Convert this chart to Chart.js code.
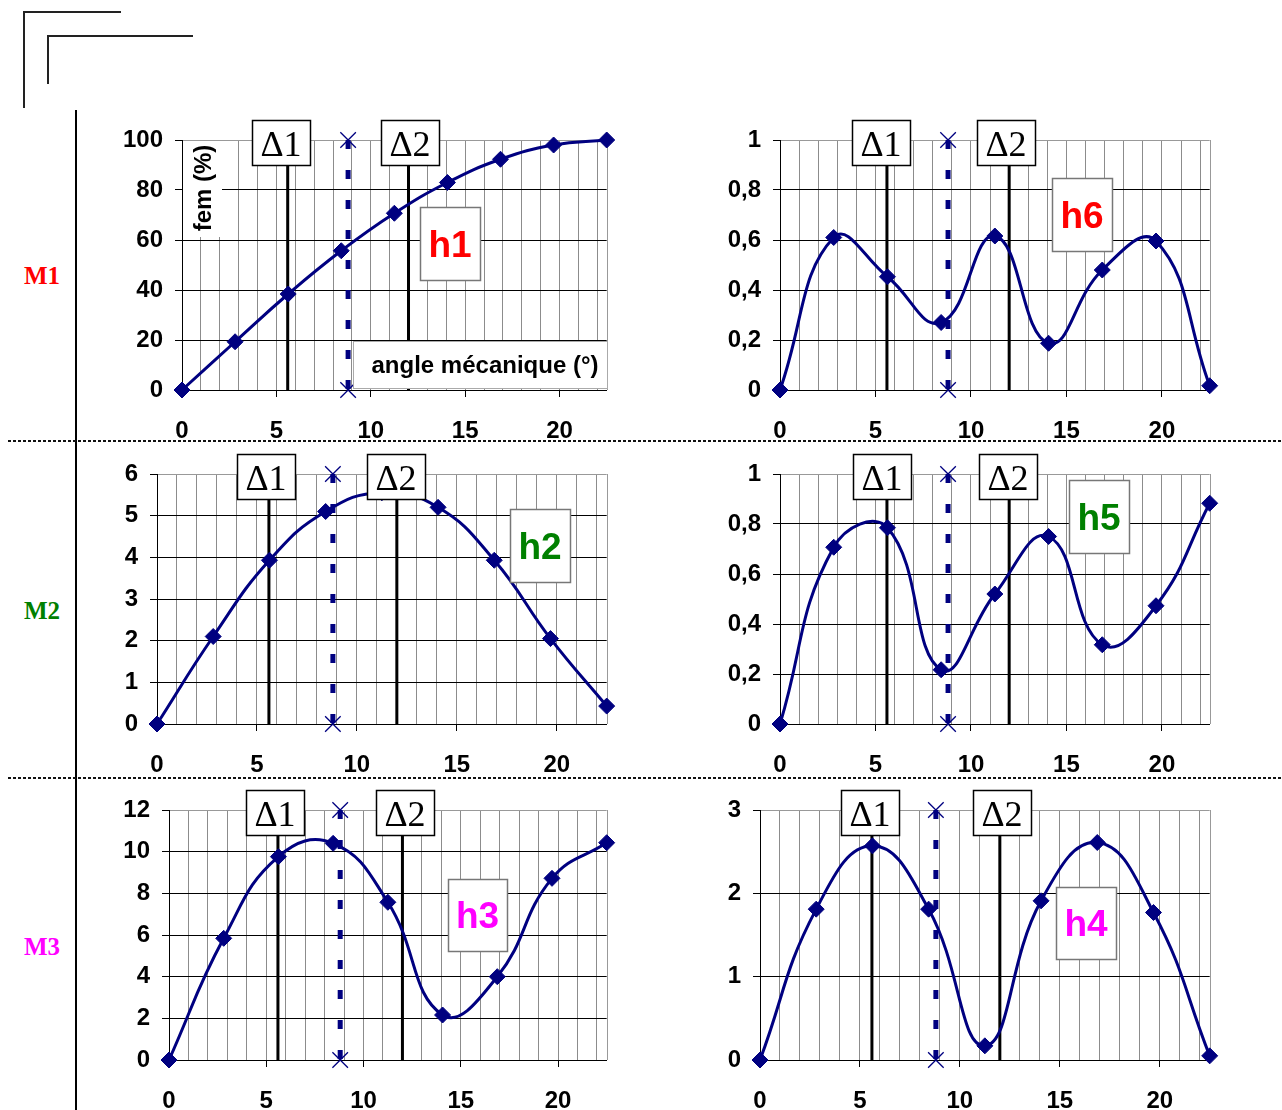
<!DOCTYPE html>
<html>
<head>
<meta charset="utf-8">
<script src="https://cdn.jsdelivr.net/npm/chart.js@4.4.0/dist/chart.umd.min.js"></script>
<style>
body { margin: 0; background: #fff; width: 1282px; height: 1110px; position: relative; overflow: hidden; }
.panel { position: absolute; }
.ln { position: absolute; background: #222; }
.sep { position: absolute; left: 8px; width: 1274px; height: 2px;
  background: repeating-linear-gradient(to right, #111 0 3px, transparent 3px 5px); }
.mlab { position: absolute; font: bold 25px 'Liberation Serif', 'Times New Roman', serif; transform: translate(-50%, -50%); }
</style>
</head>
<body>
<div class="ln" style="left:23px;top:11px;width:98px;height:2px"></div>
<div class="ln" style="left:23px;top:11px;width:2px;height:97px"></div>
<div class="ln" style="left:47px;top:35px;width:146px;height:2px"></div>
<div class="ln" style="left:47px;top:35px;width:2px;height:49px"></div>
<div class="ln" style="left:75px;top:110px;width:2px;height:1000px;background:#000"></div>
<div class="sep" style="top:440px"></div>
<div class="sep" style="top:777px"></div>
<div class="mlab" style="left:42px;top:276px;color:#ff0000">M1</div>
<div class="mlab" style="left:42px;top:611px;color:#008000">M2</div>
<div class="mlab" style="left:42px;top:947px;color:#ff00ff">M3</div>

<script>
// angles mécaniques (°) des points mesurés
const angles = [0, 2.8125, 5.625, 8.4375, 11.25, 14.0625, 16.875, 19.6875, 22.5]

// fem par harmonique
const h1 = [0, 19.3, 38.4, 55.7, 70.7, 83, 92.3, 98, 100]
const h6 = [0, 0.61, 0.453, 0.27, 0.616, 0.187, 0.48, 0.596, 0.017]
const h2 = [0, 2.1, 3.93, 5.1, 5.55, 5.2, 3.93, 2.05, 0.43]
const h5 = [0, 0.707, 0.785, 0.217, 0.52, 0.75, 0.317, 0.473, 0.883]
const h3 = [0, 5.84, 9.76, 10.4, 7.57, 2.16, 4.0, 8.72, 10.43]
const h4 = [0, 1.81, 2.57, 1.81, 0.17, 1.91, 2.61, 1.77, 0.05]

// repères verticaux
const delta1 = 5.6
const delta2 = 12
const dashedAngle = 8.8

// axes
const xMax = 22.5
const xTickLabels = [0, 5, 10, 15, 20]
const xMinorTicks = [0, 1, 2, 3, 4, 5, 6, 7, 8, 9, 10, 11, 12, 13, 14, 15, 16, 17, 18, 19, 20, 21, 22]
const yTicksH1 = [0, 20, 40, 60, 80, 100]
const yTicksH6 = [0, 0.2, 0.4, 0.6, 0.8, 1]
const yTicksH2 = [0, 1, 2, 3, 4, 5, 6]
const yTicksH5 = [0, 0.2, 0.4, 0.6, 0.8, 1]
const yTicksH3 = [0, 2, 4, 6, 8, 10, 12]
const yTicksH4 = [0, 1, 2, 3]

// placement of each plot on the page (plot area px) and of its text boxes
const panels = [
  { name: 'h1', values: h1, yTicks: yTicksH1, color: '#ff0000', area: [182, 140, 607, 390], d1: 281, d2: 410, hBox: [420, 207, 60, 73], titles: true },
  { name: 'h6', values: h6, yTicks: yTicksH6, color: '#ff0000', area: [780, 140, 1210, 390], d1: 881, d2: 1006, hBox: [1052, 178, 60, 73] },
  { name: 'h2', values: h2, yTicks: yTicksH2, color: '#008000', area: [157, 474, 607, 724], d1: 266, d2: 396, hBox: [510, 509, 60, 73] },
  { name: 'h5', values: h5, yTicks: yTicksH5, color: '#008000', area: [780, 474, 1210, 724], d1: 882, d2: 1008, hBox: [1069, 480, 60, 73] },
  { name: 'h3', values: h3, yTicks: yTicksH3, color: '#ff00ff', area: [169, 810, 607, 1060], d1: 275, d2: 405, hBox: [448, 879, 59, 72] },
  { name: 'h4', values: h4, yTicks: yTicksH4, color: '#ff00ff', area: [760, 810, 1210, 1060], d1: 870, d2: 1002, hBox: [1056, 887, 60, 72] }
]

const PAD_L = 100, PAD_T = 30, PAD_R = 12, X_AXIS_H = 60
const navy = '#000080'

Chart.defaults.font.family = "'Liberation Sans', Arial, sans-serif"
Chart.defaults.font.weight = 'bold'
Chart.defaults.font.size = 24
Chart.defaults.color = '#000'

const makeDeco = (p) => ({
  id: 'deco',
  beforeDatasetsDraw(chart) {
    const { ctx, chartArea: a } = chart
    ctx.save()
    ctx.strokeStyle = '#999'
    ctx.lineWidth = 1
    ctx.beginPath()
    ctx.moveTo(Math.round(a.right) + 0.5, a.top)
    ctx.lineTo(Math.round(a.right) + 0.5, a.bottom)
    ctx.stroke()
    ctx.restore()
  },
  afterDatasetsDraw(chart) {
    const { ctx, chartArea: a } = chart
    const px = v => a.left + (v - p.area[0])
    const py = v => a.top + (v - p.area[1])
    ctx.save()

    if (p.titles) {
      // fem (%) title box
      ctx.fillStyle = '#fff'
      ctx.fillRect(px(183), py(141), 39, 96)
      ctx.save()
      ctx.translate(px(204), py(188))
      ctx.rotate(-Math.PI / 2)
      ctx.fillStyle = '#000'
      ctx.font = "bold 24px 'Liberation Sans', Arial, sans-serif"
      ctx.textAlign = 'center'
      ctx.textBaseline = 'middle'
      ctx.fillText('fem (%)', 0, 0)
      ctx.restore()
      // angle title box
      ctx.fillStyle = '#fff'
      ctx.fillRect(px(353), py(341), 254, 47)
      ctx.strokeStyle = '#aaa'
      ctx.lineWidth = 1
      ctx.strokeRect(px(353) + 0.5, py(341) + 0.5, 254, 47)
      ctx.fillStyle = '#000'
      ctx.font = "bold 24px 'Liberation Sans', Arial, sans-serif"
      ctx.textAlign = 'center'
      ctx.textBaseline = 'middle'
      ctx.fillText('angle mécanique (°)', px(485), py(366))
    }

    // Δ boxes
    ;[['Δ1', p.d1], ['Δ2', p.d2]].forEach(([txt, cx]) => {
      const w = 58, h = 45
      const x0 = Math.round(px(cx) - w / 2), y0 = Math.round(a.top - 20)
      ctx.fillStyle = '#fff'
      ctx.fillRect(x0, y0, w, h)
      ctx.strokeStyle = '#000'
      ctx.lineWidth = 1.5
      ctx.strokeRect(x0 + 0.5, y0 + 0.5, w, h)
      ctx.fillStyle = '#000'
      ctx.font = "36px 'Liberation Serif', 'Times New Roman', serif"
      ctx.textAlign = 'center'
      ctx.textBaseline = 'alphabetic'
      ctx.fillText(txt, x0 + w / 2, y0 + h / 2 + 13)
    })

    // harmonic label box
    const [bx, by, bw, bh] = p.hBox
    ctx.fillStyle = '#fff'
    ctx.fillRect(px(bx), py(by), bw, bh)
    ctx.strokeStyle = '#777'
    ctx.lineWidth = 1.5
    ctx.strokeRect(px(bx) + 0.5, py(by) + 0.5, bw, bh)
    ctx.fillStyle = p.color
    ctx.font = "bold 37px 'Liberation Sans', Arial, sans-serif"
    ctx.textAlign = 'center'
    ctx.textBaseline = 'alphabetic'
    ctx.fillText(p.name, px(bx) + bw / 2, py(by) + bh / 2 + 13)
    ctx.restore()
  }
})

panels.forEach(p => {
  const [L, T, R, B] = p.area
  const div = document.createElement('div')
  div.className = 'panel'
  div.style.left = (L - PAD_L) + 'px'
  div.style.top = (T - PAD_T) + 'px'
  const cv = document.createElement('canvas')
  cv.width = R - L + PAD_L + PAD_R
  cv.height = B - T + PAD_T + X_AXIS_H
  div.appendChild(cv)
  document.body.appendChild(div)

  const yMax = p.yTicks[p.yTicks.length - 1]
  const vLine = (x, color, width, extra) => Object.assign({
    data: [{ x: x, y: yMax }, { x: x, y: 0 }],
    borderColor: color,
    backgroundColor: color,
    borderWidth: width,
    pointRadius: 0,
    tension: 0,
    clip: false
  }, extra)

  new Chart(cv, {
    type: 'line',
    data: {
      datasets: [
        {
          data: angles.map((a, i) => ({ x: a, y: p.values[i] })),
          borderColor: navy,
          backgroundColor: navy,
          borderWidth: 3,
          pointStyle: 'rectRot',
          pointRadius: 8,
          pointBorderWidth: 1,
          tension: 0.45,
          clip: false,
          order: 0
        },
        vLine(dashedAngle, navy, 5, {
          borderDash: [9, 21],
          pointStyle: 'crossRot',
          pointRadius: 11,
          pointBorderWidth: 1.3,
          pointBorderColor: navy,
          order: 1
        }),
        vLine(delta1, '#000', 3, { order: 2 }),
        vLine(delta2, '#000', 3, { order: 3 })
      ]
    },
    options: {
      responsive: false,
      animation: false,
      layout: { padding: { left: 0, top: PAD_T, right: PAD_R, bottom: 0 } },
      plugins: { legend: { display: false }, tooltip: { enabled: false } },
      scales: {
        x: {
          type: 'linear',
          min: 0,
          max: xMax,
          afterBuildTicks: s => { s.ticks = xMinorTicks.map(v => ({ value: v })) },
          afterFit: s => { s.height = X_AXIS_H },
          ticks: {
            autoSkip: false,
            maxRotation: 0,
            padding: 20,
            callback: v => xTickLabels.includes(v) ? String(v) : ''
          },
          grid: {
            color: '#8c8c8c',
            lineWidth: 1,
            tickLength: 7,
            tickColor: c => (c.tick && xTickLabels.includes(c.tick.value)) ? '#000' : 'rgba(0,0,0,0)'
          },
          border: { color: '#000', width: 1 }
        },
        y: {
          min: 0,
          max: yMax,
          afterBuildTicks: s => { s.ticks = p.yTicks.map(v => ({ value: v })) },
          afterFit: s => { s.width = PAD_L },
          ticks: {
            padding: 12,
            callback: v => String(v).replace('.', ',')
          },
          grid: {
            color: c => (c.tick && c.tick.value === yMax) ? '#999' : '#000',
            lineWidth: 1,
            tickLength: 7,
            tickColor: '#000'
          },
          border: { color: '#000', width: 1 }
        }
      }
    },
    plugins: [makeDeco(p)]
  })
})
</script>
</body>
</html>
